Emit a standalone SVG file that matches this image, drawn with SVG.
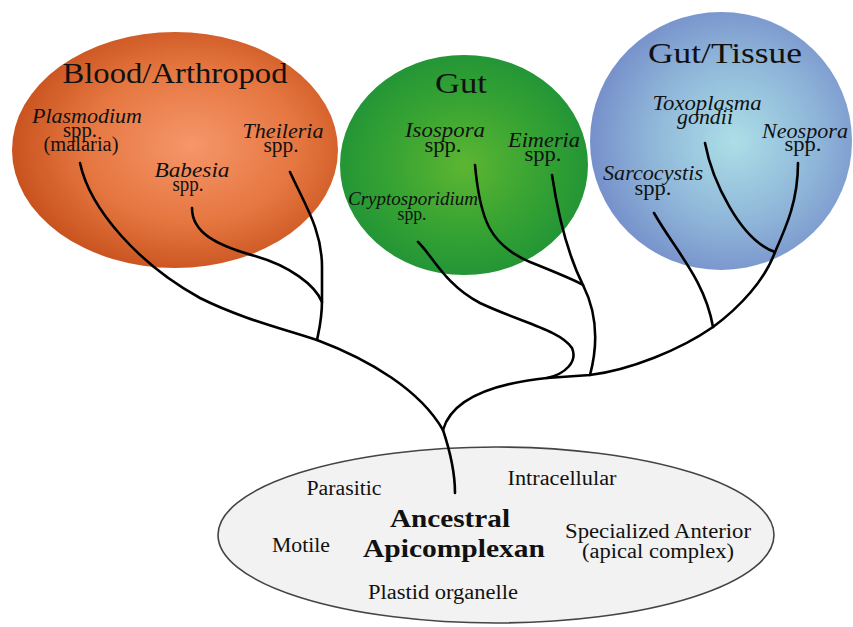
<svg xmlns="http://www.w3.org/2000/svg" width="853" height="627" viewBox="0 0 853 627">
<defs>
<radialGradient id="gRed" cx="0.55" cy="0.48" r="0.55">
<stop offset="0" stop-color="#f6966a"/>
<stop offset="0.6" stop-color="#e57640"/>
<stop offset="1" stop-color="#c9531f"/>
</radialGradient>
<radialGradient id="gGreen" cx="0.5" cy="0.5" r="0.55">
<stop offset="0" stop-color="#5cb632"/>
<stop offset="0.6" stop-color="#33a133"/>
<stop offset="1" stop-color="#1f9236"/>
</radialGradient>
<radialGradient id="gBlue" cx="0.55" cy="0.5" r="0.55">
<stop offset="0" stop-color="#acdfe7"/>
<stop offset="0.6" stop-color="#8eb4d8"/>
<stop offset="1" stop-color="#7690cb"/>
</radialGradient>
<style>
text { font-family: "Liberation Serif", "Times New Roman", serif; fill: #111; text-anchor: middle; }
.title { font-size: 30px; }
.sp { font-size: 20px; font-style: italic; }
.spp { font-size: 20px; }
.small { font-size: 18px; }
.lbl { font-size: 20px; }
.big { font-size: 26px; font-weight: bold; }
.link { fill: none; stroke: #000; stroke-width: 2.6; stroke-linecap: round; stroke-linejoin: round; }
</style>
</defs>
<rect width="853" height="627" fill="#fff"/>

<g id="blood-arthropod">
<ellipse cx="175" cy="150" rx="163" ry="118" fill="url(#gRed)"/>
<text class="title" x="175" y="83" textLength="225" lengthAdjust="spacingAndGlyphs">Blood/Arthropod</text>
</g>
<g id="gut">
<ellipse cx="464" cy="165" rx="124" ry="110" fill="url(#gGreen)"/>
<text class="title" x="461" y="93" textLength="52" lengthAdjust="spacingAndGlyphs">Gut</text>
</g>
<g id="gut-tissue">
<ellipse cx="721" cy="141" rx="131" ry="129" fill="url(#gBlue)"/>
<text class="title" x="725" y="63" textLength="154" lengthAdjust="spacingAndGlyphs">Gut/Tissue</text>
</g>

<g id="plasmodium">
<text class="sp" x="87" y="123" textLength="110" lengthAdjust="spacingAndGlyphs">Plasmodium</text>
<text class="spp" x="80" y="137" textLength="34" lengthAdjust="spacingAndGlyphs">spp.</text>
<text class="spp" x="81" y="151" textLength="75" lengthAdjust="spacingAndGlyphs">(malaria)</text>
</g>
<g id="babesia">
<text class="sp" x="192" y="177" textLength="75" lengthAdjust="spacingAndGlyphs">Babesia</text>
<text class="spp" x="188" y="191" textLength="31" lengthAdjust="spacingAndGlyphs">spp.</text>
</g>
<g id="theileria">
<text class="sp" x="283" y="138" textLength="81" lengthAdjust="spacingAndGlyphs">Theileria</text>
<text class="spp" x="281" y="152" textLength="35" lengthAdjust="spacingAndGlyphs">spp.</text>
</g>
<g id="isospora">
<text class="sp" x="445" y="137" textLength="80" lengthAdjust="spacingAndGlyphs">Isospora</text>
<text class="spp" x="443" y="152" textLength="37" lengthAdjust="spacingAndGlyphs">spp.</text>
</g>
<g id="eimeria">
<text class="sp" x="544" y="147" textLength="72" lengthAdjust="spacingAndGlyphs">Eimeria</text>
<text class="spp" x="543" y="161" textLength="37" lengthAdjust="spacingAndGlyphs">spp.</text>
</g>
<g id="cryptosporidium">
<text class="sp small" x="413" y="205" textLength="130" lengthAdjust="spacingAndGlyphs">Cryptosporidium</text>
<text class="small" x="412" y="220" textLength="29" lengthAdjust="spacingAndGlyphs">spp.</text>
</g>
<g id="toxoplasma">
<text class="sp" x="707" y="110" textLength="109" lengthAdjust="spacingAndGlyphs">Toxoplasma</text>
<text class="sp" x="705" y="124" textLength="56" lengthAdjust="spacingAndGlyphs">gondii</text>
</g>
<g id="neospora">
<text class="sp" x="805" y="138" textLength="86" lengthAdjust="spacingAndGlyphs">Neospora</text>
<text class="spp" x="803" y="151" textLength="37" lengthAdjust="spacingAndGlyphs">spp.</text>
</g>
<g id="sarcocystis">
<text class="sp" x="653" y="180" textLength="100" lengthAdjust="spacingAndGlyphs">Sarcocystis</text>
<text class="spp" x="653" y="195" textLength="37" lengthAdjust="spacingAndGlyphs">spp.</text>
</g>

<g id="ancestral">
<ellipse cx="496" cy="535" rx="278" ry="88" fill="#f2f2f2" stroke="#444" stroke-width="1.6"/>
<text class="lbl" x="344" y="495" textLength="75" lengthAdjust="spacingAndGlyphs">Parasitic</text>
<text class="lbl" x="562" y="485" textLength="109" lengthAdjust="spacingAndGlyphs">Intracellular</text>
<text class="big" x="450" y="527" textLength="120" lengthAdjust="spacingAndGlyphs">Ancestral</text>
<text class="big" x="454" y="557" textLength="182" lengthAdjust="spacingAndGlyphs">Apicomplexan</text>
<text class="lbl" x="301" y="552" textLength="58" lengthAdjust="spacingAndGlyphs">Motile</text>
<text class="lbl" x="658" y="538" textLength="186" lengthAdjust="spacingAndGlyphs">Specialized Anterior</text>
<text class="lbl" x="658" y="558" textLength="152" lengthAdjust="spacingAndGlyphs">(apical complex)</text>
<text class="lbl" x="443" y="599" textLength="150" lengthAdjust="spacingAndGlyphs">Plastid organelle</text>
</g>

<g id="connectors">
<path class="link" d="M80,163 C90,210 140,265 200,298 C240,318 280,328 317,340 C370,360 420,390 443,430 C448,445 455,470 455,493"/>
<path class="link" d="M192,208 C192,232 215,245 255,256 C290,266 315,285 322,302"/>
<path class="link" d="M290,172 C305,205 322,230 322,267 L322,300 C322,320 319,330 317,340"/>
<path class="link" d="M443,430 C450,405 480,385 547,378 L590,375 C630,370 680,350 713,327 C740,307 765,280 775,252 C787,225 798,200 798,163"/>
<path class="link" d="M705,143 C712,180 740,240 775,252"/>
<path class="link" d="M654,213 C675,250 705,280 713,327"/>
<path class="link" d="M418,242 C432,255 445,285 480,303 C520,322 560,330 572,348 C578,362 565,374 547,378"/>
<path class="link" d="M475,165 C480,220 490,245 530,262 C555,272 575,280 583,285"/>
<path class="link" d="M552,175 C558,215 568,255 583,285 C598,315 598,345 590,375"/>
</g>
</svg>
